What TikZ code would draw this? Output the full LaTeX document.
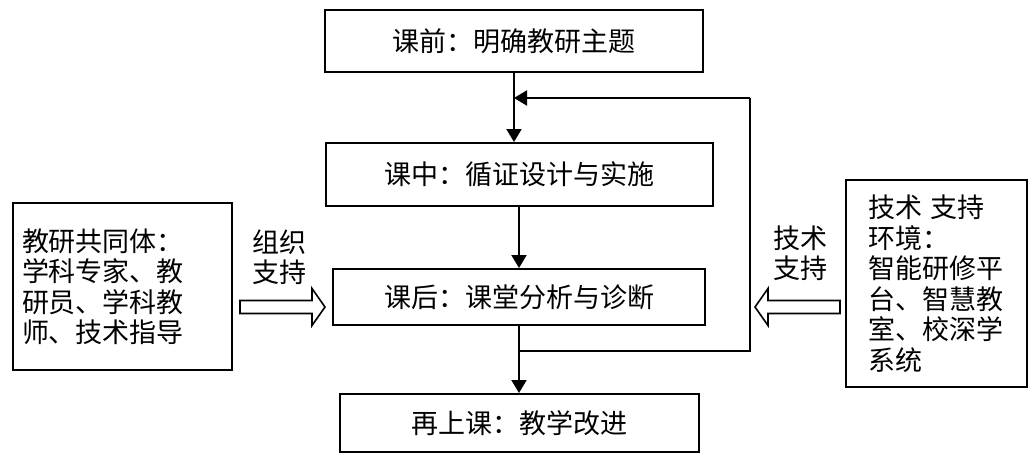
\documentclass[tikz,border=0pt]{standalone}
\usepackage{fontspec}
\newfontfamily\cjk{Noto Sans CJK SC}
\usetikzlibrary{arrows.meta}
\begin{document}
\begin{tikzpicture}[x=1pt,y=-1pt,
  every node/.style={font=\cjk\fontsize{27}{30.5}\selectfont},
  stagebox/.style={draw,line width=2pt,inner sep=0pt},
  sidebox/.style={draw,line width=2pt,align=left,inner ysep=0pt},
  flow/.style={line width=2pt,-{Triangle[length=13pt,width=15pt]}},
  line/.style={line width=2pt},
  hollow/.style={draw,line width=1.6pt,line join=miter},
  lbl/.style={align=center,inner sep=0pt}]
\useasboundingbox (0,0) rectangle (1029,453);
\node[stagebox,minimum width=378pt,minimum height=62pt] (b1) at (514,41) {课前：明确教研主题};
\node[stagebox,minimum width=387pt,minimum height=63pt] (b2) at (519.5,174.5) {课中：循证设计与实施};
\node[stagebox,minimum width=372pt,minimum height=56pt] (b3) at (519,297) {课后：课堂分析与诊断};
\node[stagebox,minimum width=359pt,minimum height=58pt] (b4) at (519.5,423) {再上课：教学改进};
\node[sidebox,text width=201pt,inner xsep=9pt,minimum height=167pt] (left) at (122.5,286.5)
  {教研共同体：\\学科专家、教\\研员、学科教\\师、技术指导};
\node[sidebox,text width=137pt,inner xsep=22pt,minimum height=207pt] (right) at (936.5,283.5)
  {技术 支持\\环境：\\智能研修平\\台、智慧教\\室、校深学\\系统};
\node[lbl] (lt) at (279,257) {组织\\支持};
\node[lbl] (rt) at (800,253) {技术\\支持};
% left hollow arrow (pointing right)
\coordinate (la) at (240,307);
\coordinate (lb) at (325,307);
\draw[hollow] ([yshift=-6.5pt]la) -- ([xshift=-13pt,yshift=-6.5pt]lb) -- ([xshift=-13pt,yshift=-18.5pt]lb)
  -- (lb) -- ([xshift=-13pt,yshift=18.5pt]lb) -- ([xshift=-13pt,yshift=6.5pt]lb) -- ([yshift=6.5pt]la) -- cycle;
% right hollow arrow (pointing left)
\coordinate (ra) at (840,307);
\coordinate (rb) at (755,307);
\draw[hollow] ([yshift=-6.5pt]ra) -- ([xshift=13pt,yshift=-6.5pt]rb) -- ([xshift=13pt,yshift=-18.5pt]rb)
  -- (rb) -- ([xshift=13pt,yshift=18.5pt]rb) -- ([xshift=13pt,yshift=6.5pt]rb) -- ([yshift=6.5pt]ra) -- cycle;
\coordinate (fbs) at (519,351);
\coordinate (fbr) at (750,351);
\coordinate (fbt) at (750,98);
\coordinate (fbe) at (514,98);
\draw[flow] (b1.south -| fbe) -- (b2.north -| fbe);
\draw[flow] (b2.south -| fbs) -- (b3.north -| fbs);
\draw[flow] (b3.south -| fbs) -- (b4.north -| fbs);
\draw[line] (fbs) -- (fbr) -- (fbt);
\draw[flow] (fbt) -- (fbe);
\end{tikzpicture}
\end{document}
